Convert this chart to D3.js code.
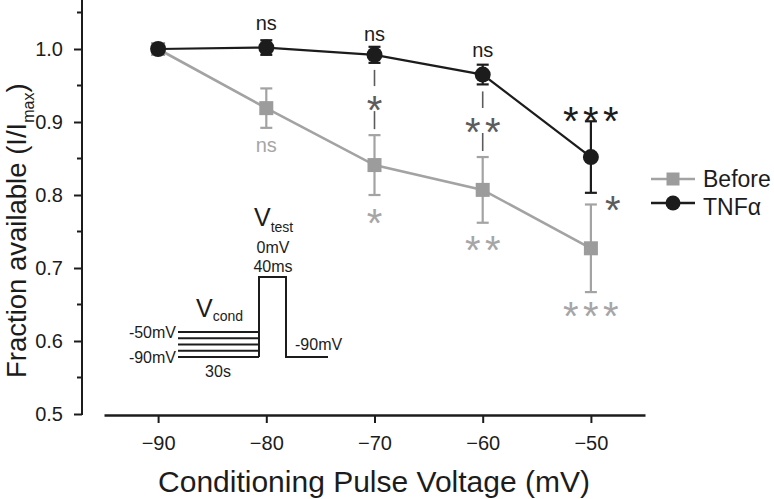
<!DOCTYPE html>
<html>
<head>
<meta charset="utf-8">
<script src="https://cdn.jsdelivr.net/npm/d3@7/dist/d3.min.js"></script>
<style>
  html, body { margin: 0; padding: 0; background: #fff; }
  svg { display: block; font-family: "Liberation Sans", Arial, Helvetica, sans-serif; }
</style>
</head>
<body>
<svg id="chart" width="774" height="499"></svg>
<script>
// ---------- data ----------
const voltages = [-90, -80, -70, -60, -50];
const xTicks = [-90, -80, -70, -60, -50];
const yTicks = [0.5, 0.6, 0.7, 0.8, 0.9, 1.0];
const yMinorTicks = [0.55, 0.65, 0.75, 0.85, 0.95, 1.05];

const beforeMean = [1.0, 0.919, 0.841, 0.807, 0.727];
const beforeErr  = [0, 0.027, 0.041, 0.045, 0.060];
const tnfMean    = [1.0, 1.002, 0.992, 0.965, 0.852];
const tnfErr     = [0, 0.010, 0.011, 0.0135, 0.049];

// significance labels (positions in data units: centre of the label)
const tnfSig      = ["", "ns", "ns", "ns", "***"];
const tnfSigAt    = [null, 1.034, 1.018, 0.997, 0.914];
const beforeSig   = ["", "ns", "*", "**", "***"];
const beforeSigAt = [null, 0.867, 0.775, 0.738, 0.647];
const pairSig     = ["", "", "*", "**", "*"];
const pairSigAt   = [null, null, 0.930, 0.900, 0.793];
const pairSigSide = [false, false, false, false, true];

const seriesNames = ["Before", "TNFα"];

// inset protocol
const condLevels = [-50, -60, -70, -80, -90];

// ---------- layout ----------
const svg = d3.select("#chart");
const BLACK = "#1c1c1c", GRAY = "#a3a3a3", GRAYTXT = "#a6a6a6", DARK = "#5c5c5c";

const x = d3.scaleLinear().domain([-95, -45]).range([104, 645]);
const y = d3.scaleLinear().domain([0.5, 1.0]).range([414, 49]);

// ---------- axes ----------
const yAxisG = svg.append("g").attr("transform", "translate(82,0)");
yAxisG.call(d3.axisLeft(y).tickValues(yTicks).tickSize(8).tickPadding(11).tickFormat(d3.format(".1f")));
yAxisG.select(".domain").remove();
yAxisG.append("line").attr("x1", 0).attr("x2", 0).attr("y1", y(0.5) + 1).attr("y2", y(1.068))
  .attr("stroke", BLACK).attr("stroke-width", 2);
yAxisG.selectAll(".minor").data(yMinorTicks).join("line").attr("class", "minor")
  .attr("x1", -5).attr("x2", 0).attr("y1", d => y(d)).attr("y2", d => y(d))
  .attr("stroke", BLACK).attr("stroke-width", 2);
yAxisG.selectAll(".tick line").attr("stroke", BLACK).attr("stroke-width", 2);
yAxisG.selectAll(".tick text").attr("font-size", 20).attr("fill", BLACK)
  .attr("font-family", "Liberation Sans, Arial, sans-serif");

const xAxisG = svg.append("g").attr("transform", "translate(0,415)");
xAxisG.call(d3.axisBottom(x).tickValues(xTicks).tickSize(8).tickSizeOuter(0).tickPadding(13).tickFormat(d3.format("d")));
xAxisG.select(".domain").attr("stroke", BLACK).attr("stroke-width", 2.5);
xAxisG.selectAll(".tick line").attr("stroke", BLACK).attr("stroke-width", 2);
xAxisG.selectAll(".tick text").attr("font-size", 20).attr("fill", BLACK)
  .attr("font-family", "Liberation Sans, Arial, sans-serif");

// axis titles
svg.append("text").attr("x", 374).attr("y", 492).attr("text-anchor", "middle")
  .attr("font-size", 30).attr("fill", BLACK).text("Conditioning Pulse Voltage (mV)");

const yt = svg.append("text").attr("transform", "translate(26,378) rotate(-90)")
  .attr("font-size", 27.5).attr("fill", BLACK);
yt.append("tspan").text("Fraction available (I/I");
yt.append("tspan").attr("font-size", 16).attr("dy", 8).text("max");
yt.append("tspan").attr("dy", -8).text(")");

// ---------- series ----------
function drawSeries(means, errs, color, marker, width) {
  const pts = voltages.map((v, i) => ({ v, m: means[i], e: errs[i] }));
  svg.append("path").datum(pts)
    .attr("d", d3.line().x(d => x(d.v)).y(d => y(d.m)))
    .attr("fill", "none").attr("stroke", color).attr("stroke-width", width);
  const eb = svg.append("g").selectAll("g").data(pts.filter(d => d.e > 0)).join("g")
    .attr("stroke", color).attr("stroke-width", 2.2);
  eb.append("line").attr("x1", d => x(d.v)).attr("x2", d => x(d.v))
    .attr("y1", d => y(d.m - d.e)).attr("y2", d => y(d.m + d.e));
  eb.append("line").attr("x1", d => x(d.v) - 6).attr("x2", d => x(d.v) + 6)
    .attr("y1", d => y(d.m - d.e)).attr("y2", d => y(d.m - d.e));
  eb.append("line").attr("x1", d => x(d.v) - 6).attr("x2", d => x(d.v) + 6)
    .attr("y1", d => y(d.m + d.e)).attr("y2", d => y(d.m + d.e));
  if (marker === "square") {
    svg.append("g").selectAll("rect").data(pts).join("rect")
      .attr("x", d => x(d.v) - 7).attr("y", d => y(d.m) - 7)
      .attr("width", 14).attr("height", 14).attr("fill", "#9c9c9c");
  } else {
    svg.append("g").selectAll("circle").data(pts).join("circle")
      .attr("cx", d => x(d.v)).attr("cy", d => y(d.m)).attr("r", 8).attr("fill", color);
  }
}
drawSeries(beforeMean, beforeErr, GRAY, "square", 2.6);
drawSeries(tnfMean, tnfErr, BLACK, "circle", 2.2);

// ---------- significance labels ----------
function sigLabel(label, cx, cy, color) {
  if (!label) return;
  if (label === "ns") {
    svg.append("text").attr("x", cx).attr("y", cy + 5.5).attr("text-anchor", "middle")
      .attr("font-size", 20).attr("fill", color).text("ns");
  } else {
    const n = label.length;
    const stars = d3.range(n).map(i => cx + (i - (n - 1) / 2) * 20);
    svg.append("g").selectAll("text").data(stars).join("text")
      .attr("x", d => d).attr("y", cy + 23.5).attr("text-anchor", "middle")
      .attr("font-size", 40).attr("fill", color).text("*");
  }
}
voltages.forEach((v, i) => {
  if (tnfSig[i]) sigLabel(tnfSig[i], x(v), y(tnfSigAt[i]), BLACK);
  if (beforeSig[i]) sigLabel(beforeSig[i], x(v), y(beforeSigAt[i]), GRAYTXT);
  if (pairSig[i]) {
    const cx = pairSigSide[i] ? x(v) + 22 : x(v);
    sigLabel(pairSig[i], cx, y(pairSigAt[i]), DARK);
    if (!pairSigSide[i]) {
      const top = y(tnfMean[i] - tnfErr[i]) + 7;
      const bot = y(beforeMean[i] + beforeErr[i]) - 6;
      const sc = y(pairSigAt[i]);
      svg.append("line").attr("x1", x(v)).attr("x2", x(v)).attr("y1", top).attr("y2", sc - 14)
        .attr("stroke", DARK).attr("stroke-width", 1.6);
      svg.append("line").attr("x1", x(v)).attr("x2", x(v)).attr("y1", sc + 11).attr("y2", bot)
        .attr("stroke", DARK).attr("stroke-width", 1.6);
    }
  }
});

// ---------- legend ----------
const legend = svg.append("g");
const legRows = [
  { name: seriesNames[0], color: GRAY, marker: "square", y: 179, ty: 187 },
  { name: seriesNames[1], color: BLACK, marker: "circle", y: 203, ty: 215 }
];
legRows.forEach(r => {
  legend.append("line").attr("x1", 651).attr("x2", 695).attr("y1", r.y).attr("y2", r.y)
    .attr("stroke", r.color).attr("stroke-width", 2.4);
  if (r.marker === "square") {
    legend.append("rect").attr("x", 673 - 6.5).attr("y", r.y - 6.5).attr("width", 13).attr("height", 13).attr("fill", "#9c9c9c");
  } else {
    legend.append("circle").attr("cx", 673).attr("cy", r.y).attr("r", 7.5).attr("fill", r.color);
  }
  legend.append("text").attr("x", 703).attr("y", r.ty).attr("font-size", 23).attr("fill", BLACK).text(r.name);
});

// ---------- inset protocol ----------
const inset = svg.append("g");
const vY = d3.scaleLinear().domain([-90, -50]).range([357, 332]);
const tX0 = 178, tStep = 259, tTestEnd = 286, tEnd = 328, testTop = 277;
inset.selectAll("line.cond").data(condLevels).join("line").attr("class", "cond")
  .attr("x1", tX0).attr("x2", tStep).attr("y1", d => vY(d)).attr("y2", d => vY(d))
  .attr("stroke", BLACK).attr("stroke-width", 2);
inset.append("path")
  .attr("d", `M${tStep},${vY(-90)}V${testTop}H${tTestEnd}V${vY(-90)}H${tEnd}`)
  .attr("fill", "none").attr("stroke", BLACK).attr("stroke-width", 2);
const fs = 16;
inset.append("text").attr("x", 176).attr("y", vY(-50) + 6).attr("text-anchor", "end").attr("font-size", fs).attr("fill", BLACK).text("-50mV");
inset.append("text").attr("x", 176).attr("y", vY(-90) + 6).attr("text-anchor", "end").attr("font-size", fs).attr("fill", BLACK).text("-90mV");
inset.append("text").attr("x", 218).attr("y", 377).attr("text-anchor", "middle").attr("font-size", fs).attr("fill", BLACK).text("30s");
inset.append("text").attr("x", 295).attr("y", 350).attr("font-size", fs).attr("fill", BLACK).text("-90mV");
inset.append("text").attr("x", 273).attr("y", 253).attr("text-anchor", "middle").attr("font-size", fs).attr("fill", BLACK).text("0mV");
inset.append("text").attr("x", 273).attr("y", 272).attr("text-anchor", "middle").attr("font-size", fs).attr("fill", BLACK).text("40ms");
const vc = inset.append("text").attr("x", 196).attr("y", 317).attr("font-size", 25).attr("fill", BLACK);
vc.append("tspan").text("V");
vc.append("tspan").attr("font-size", 14).attr("dy", 4).text("cond");
const vt = inset.append("text").attr("x", 254).attr("y", 226).attr("font-size", 25).attr("fill", BLACK);
vt.append("tspan").text("V");
vt.append("tspan").attr("font-size", 14).attr("dy", 6).text("test");
</script>
</body>
</html>
